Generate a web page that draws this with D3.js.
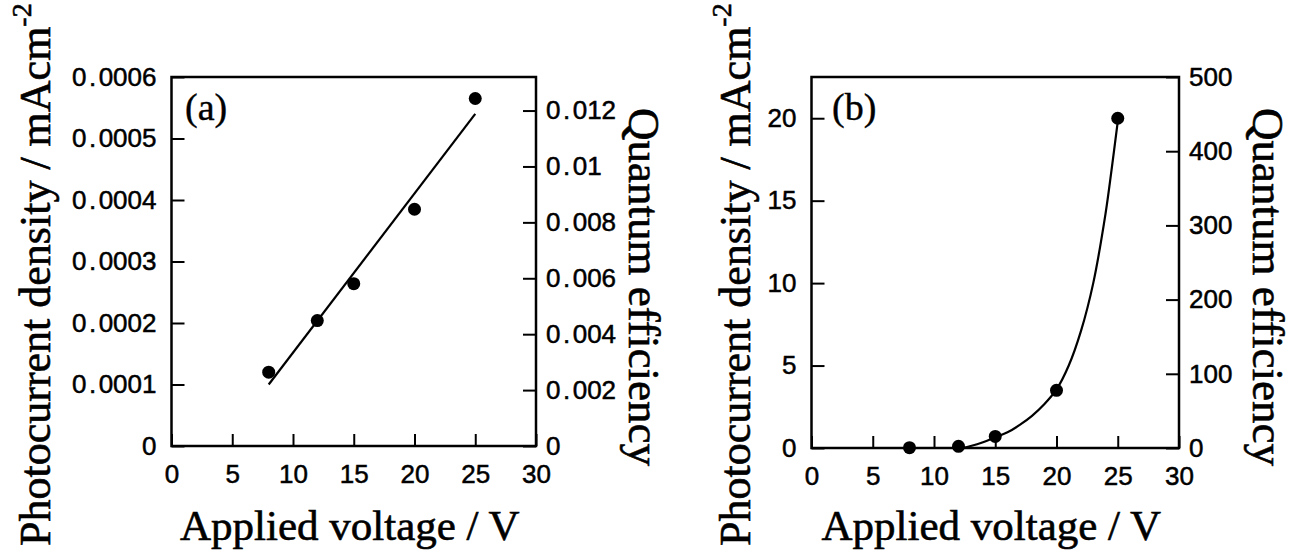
<!DOCTYPE html>
<html>
<head>
<meta charset="utf-8">
<script src="https://cdn.jsdelivr.net/npm/d3@7"></script>
<style>
  body { margin: 0; background: #fff; }
  svg { display: block; }
</style>
</head>
<body>
<div id="chart"></div>
<script>
// values
const voltage = [8, 12, 15, 20, 25];
const currentA = [0.00012, 0.000204, 0.000264, 0.000385, 0.000565];
const fitVoltageA = [8, 25];
const fitCurrentA = [0.0001, 0.00054];

const currentB = [0.02, 0.1, 0.7, 3.5, 20];
const curveVoltageB = [12.3, 13, 14, 15, 16, 17, 18, 19, 20, 21, 22, 23, 24, 24.5, 25];
const curveCurrentB = [0, 0.12, 0.35, 0.65, 0.95, 1.4, 1.95, 2.65, 3.55, 5.0, 7.1, 10.0, 14.2, 16.9, 19.8];

const xTicks = [0, 5, 10, 15, 20, 25, 30];
const yTicksA = [0, 0.0001, 0.0002, 0.0003, 0.0004, 0.0005, 0.0006];
const qTicksA = [0, 0.002, 0.004, 0.006, 0.008, 0.01, 0.012];
const yTicksB = [0, 5, 10, 15, 20];
const qTicksB = [0, 100, 200, 300, 400, 500];

const width = 1296, height = 553;
const serif = "Liberation Serif, Times New Roman, serif";
const sans = "Liberation Sans, Arial, Helvetica, sans-serif";

const svg = d3.select("#chart").append("svg")
    .attr("width", width)
    .attr("height", height);

svg.append("rect").attr("width", width).attr("height", height).attr("fill", "#fff");

// widen the decimal point a little, like the scanned labels
function spacedLabel(sel) {
  sel.each(function(d) {
    const t = d3.select(this);
    const s = String(d);
    t.text(null);
    if (s.indexOf(".") < 0) { t.text(s); return; }
    const parts = s.split(".");
    t.append("tspan").text(parts[0]);
    t.append("tspan").attr("dx", 2.5).text(".");
    t.append("tspan").attr("dx", 2.5).text(parts[1]);
  });
}

// scanned print looks heavy, so thicken glyphs a bit
function inked(sel, w) {
  sel.attr("fill", "#000").attr("stroke", "#000").attr("stroke-width", w);
}

function drawPanel(p) {
  const g = svg.append("g");
  const x = d3.scaleLinear().domain([0, 30]).range([p.left, p.right]);
  const y = d3.scaleLinear().domain([0, p.yMax]).range([p.bottom, p.top]);
  const q = d3.scaleLinear().domain([0, p.qMax]).range([p.bottom, p.top]);

  const styleAxis = a => {
    a.select(".domain").remove();
    a.selectAll(".tick line").attr("stroke", "#000").attr("stroke-width", 2);
    a.selectAll(".tick text")
      .attr("font-family", sans)
      .attr("font-size", 26)
      .call(inked, 0.5)
      .call(spacedLabel);
  };

  g.append("g")
      .attr("transform", `translate(0,${p.bottom})`)
      .call(d3.axisBottom(x).tickValues(xTicks).tickSize(-12).tickPadding(19))
      .call(styleAxis);

  g.append("g")
      .attr("transform", `translate(${p.left},0)`)
      .call(d3.axisLeft(y).tickValues(p.yTicks).tickSize(-13).tickPadding(15))
      .call(styleAxis);

  g.append("g")
      .attr("transform", `translate(${p.right},0)`)
      .call(d3.axisRight(q).tickValues(p.qTicks).tickSize(-13).tickPadding(10))
      .call(styleAxis);

  g.append("rect")
      .attr("x", p.left).attr("y", p.top)
      .attr("width", p.right - p.left).attr("height", p.bottom - p.top)
      .attr("fill", "none").attr("stroke", "#000").attr("stroke-width", 2.5);

  g.append("path")
      .datum(d3.zip(p.lineX, p.lineY))
      .attr("fill", "none")
      .attr("stroke", "#000")
      .attr("stroke-width", 2.2)
      .attr("d", d3.line().x(d => x(d[0])).y(d => y(d[1])).curve(p.curve));

  g.append("g").selectAll("circle")
    .data(d3.zip(voltage, p.values))
    .join("circle")
      .attr("cx", d => x(d[0]))
      .attr("cy", d => y(d[1]))
      .attr("r", 6.5)
      .attr("fill", "#000");

  g.append("text")
      .attr("x", p.tagX).attr("y", 120)
      .attr("font-family", serif).attr("font-size", 38)
      .call(inked, 0.4)
      .text(p.tag);

  // axis titles
  g.append("text")
      .attr("x", (p.left + p.right) / 2 - 4).attr("y", 540)
      .attr("text-anchor", "middle")
      .attr("font-family", serif).attr("font-size", 43)
      .call(inked, 0.6)
      .text("Applied voltage / V");

  const yt = g.append("text")
      .attr("transform", `translate(${p.yTitleX},546) rotate(-90)`)
      .attr("font-family", serif).attr("font-size", 44)
      .call(inked, 0.6);
  yt.append("tspan").text("Photocurrent density / mAcm");
  yt.append("tspan").attr("dy", -19).attr("font-size", 28).text("-2");

  g.append("text")
      .attr("transform", `translate(${p.qTitleX},287) rotate(90)`)
      .attr("text-anchor", "middle")
      .attr("font-family", serif).attr("font-size", 45)
      .call(inked, 0.6)
      .text("Quantum efficiency");
}

drawPanel({
  left: 171.5, right: 536, top: 77, bottom: 446,
  yMax: 0.0006, qMax: 0.0132,
  yTicks: yTicksA, qTicks: qTicksA,
  values: currentA, lineX: fitVoltageA, lineY: fitCurrentA, curve: d3.curveLinear,
  tag: "(a)", tagX: 185, yTitleX: 50, qTitleX: 629
});

drawPanel({
  left: 811.5, right: 1179, top: 77, bottom: 448,
  yMax: 22.5, qMax: 500,
  yTicks: yTicksB, qTicks: qTicksB,
  values: currentB, lineX: curveVoltageB, lineY: curveCurrentB, curve: d3.curveCatmullRom,
  tag: "(b)", tagX: 832, yTitleX: 750, qTitleX: 1253
});
</script>
</body>
</html>
